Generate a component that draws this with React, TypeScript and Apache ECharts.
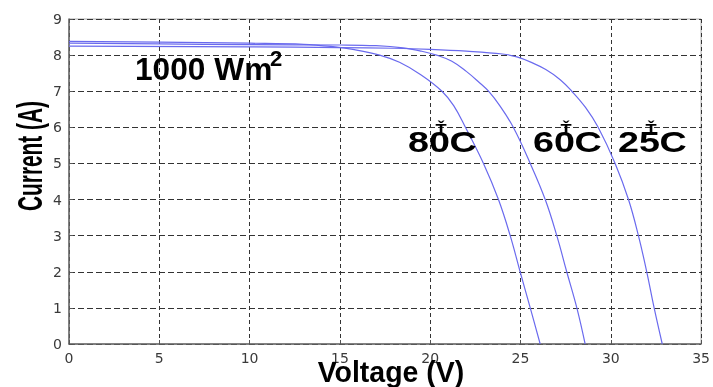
import React, { useEffect, useRef } from "react";
import * as echarts from "echarts";

// I–V curves of a PV module at 1000 W/m² for three cell temperatures
const voltage80 = [0, 5, 10, 13, 14.5, 15.8, 17.2, 18.3, 19.5, 20.65, 21.3, 21.95, 22.95, 23.78, 24.43, 24.98, 25.54, 26.09];
const current80 = [8.38, 8.36, 8.33, 8.3, 8.24, 8.15, 8.0, 7.8, 7.45, 7.0, 6.6, 6.0, 5.0, 4.0, 3.0, 2.0, 1.0, 0];

const voltage60 = [0, 5, 10, 15, 17, 18.5, 19.5, 20.35, 21.2, 22.0, 22.7, 23.23, 23.85, 24.6, 25.54, 26.37, 27.01, 27.56, 28.12, 28.58];
const current60 = [8.33, 8.31, 8.29, 8.28, 8.26, 8.2, 8.11, 8.0, 7.83, 7.55, 7.25, 7.0, 6.6, 6.0, 5.0, 4.0, 3.0, 2.0, 1.0, 0];

const voltage25 = [0, 10, 15, 18, 20, 22, 24.0, 24.8, 25.6, 26.4, 27.2, 27.84, 28.6, 29.3, 30.24, 30.98, 31.53, 31.99, 32.4, 32.85];
const current25 = [8.25, 8.23, 8.21, 8.19, 8.16, 8.11, 8.03, 7.95, 7.8, 7.6, 7.32, 7.0, 6.55, 6.0, 5.0, 4.0, 3.0, 2.0, 1.0, 0];

const seriesNames = ["80", "60", "25"];
const xAxisRange = { min: 0, max: 35, interval: 5 };
const yAxisRange = { min: 0, max: 9, interval: 1 };

const FONT = "'Liberation Sans', Arial, sans-serif";
const TICK_FONT = "'DejaVu Sans', sans-serif";

function pairs(v: number[], c: number[]) {
  return v.map((x, i) => [x, c[i]]);
}

export default function App() {
  const ref = useRef<HTMLDivElement>(null);
  useEffect(() => {
    document.body.style.margin = "0";
    const chart = echarts.init(ref.current!, null, { renderer: "svg" });
    const lineColor = "#6a6aee";
    const data = [pairs(voltage80, current80), pairs(voltage60, current60), pairs(voltage25, current25)];
    const bigText = (text: string, x: number, y: number, size: number, sx: number, align = "left") => ({
      type: "text",
      x,
      y,
      scaleX: sx,
      z: 100,
      style: {
        text,
        fontFamily: FONT,
        fontWeight: "bold",
        fontSize: size,
        fill: "#000",
        textAlign: align,
        textVerticalAlign: "middle",
      },
    });
    const tempLabel = (t: string, left: number) => [
      bigText(t, left, 142.5, 29, 1.3),
      bigText("Ť", left + 33, 128.5, 14, 1.3, "center"),
      bigText("C", left + 41.5, 142.5, 29, 1.3),
    ];
    chart.setOption({
      animation: false,
      grid: {
        left: 69,
        right: 11,
        top: 19,
        bottom: 43,
        show: true,
        borderColor: "#aaaaaa",
        borderWidth: 1,
      },
      xAxis: {
        type: "value",
        min: xAxisRange.min,
        max: xAxisRange.max,
        interval: xAxisRange.interval,
        axisLine: { show: true, onZero: false, lineStyle: { color: "#666", width: 1.5 } },
        axisTick: { show: true, inside: true, length: 4, lineStyle: { color: "#555" } },
        axisLabel: { color: "#3a3a3a", fontSize: 14, fontFamily: TICK_FONT, margin: 7 },
        splitLine: { show: true, lineStyle: { color: "#333", width: 1, type: [4, 3] } },
      },
      yAxis: {
        type: "value",
        min: yAxisRange.min,
        max: yAxisRange.max,
        interval: yAxisRange.interval,
        axisLine: { show: true, onZero: false, lineStyle: { color: "#666", width: 1.5 } },
        axisTick: { show: true, inside: true, length: 4, lineStyle: { color: "#555" } },
        axisLabel: { color: "#3a3a3a", fontSize: 14, fontFamily: TICK_FONT, margin: 7 },
        splitLine: { show: true, lineStyle: { color: "#333", width: 1, type: [6, 3] } },
      },
      series: data.map((d, i) => ({
        name: seriesNames[i],
        type: "line",
        data: d,
        showSymbol: false,
        smooth: 0.4,
        lineStyle: { color: lineColor, width: 1.2 },
        z: 3,
      })),
      graphic: [
        {
          type: "text",
          x: 29,
          y: 156,
          rotation: Math.PI / 2,
          scaleX: 0.58,
          z: 100,
          style: {
            text: "Current (A)",
            fontFamily: FONT,
            fontWeight: "bold",
            fontSize: 36,
            fill: "#000",
            textAlign: "center",
            textVerticalAlign: "middle",
          },
        },
        bigText("Voltage (V)", 391, 372, 30, 0.95, "center"),
        bigText("1000 Wm", 135, 68.5, 32, 0.99),
        bigText("2", 270, 58.5, 22, 1.0),
        ...tempLabel("80", 408),
        ...tempLabel("60", 533),
        ...tempLabel("25", 618),
      ],
    });
    return () => chart.dispose();
  }, []);
  return <div ref={ref} style={{ position: "fixed", left: 0, top: 0, width: 713, height: 387 }} />;
}
